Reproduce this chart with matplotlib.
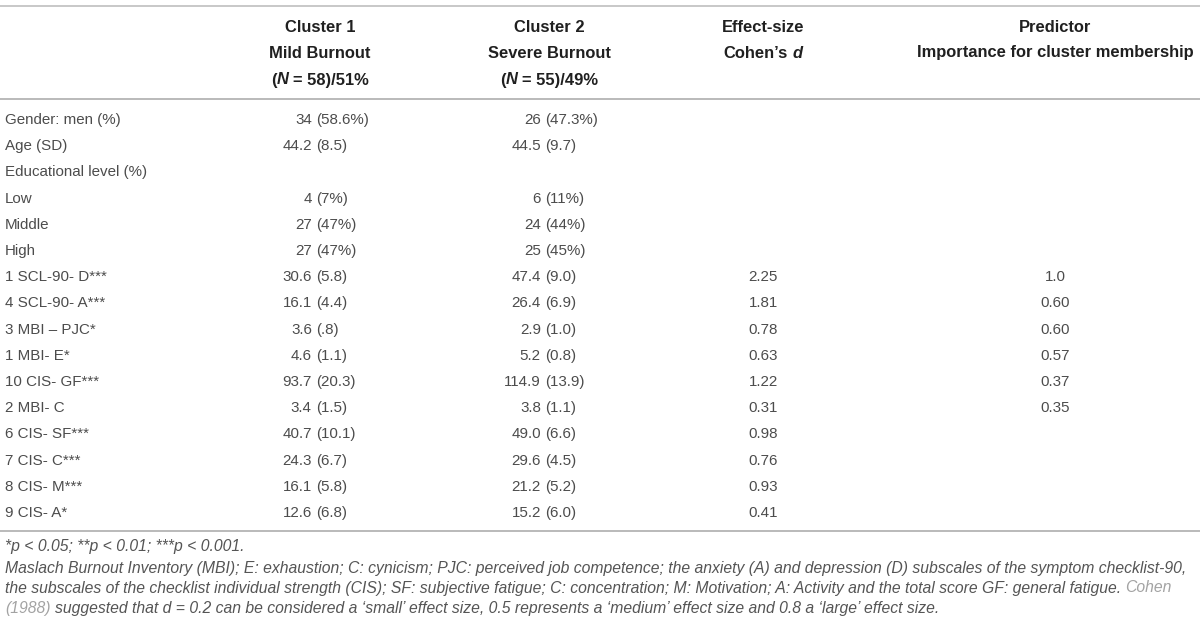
import matplotlib
matplotlib.use("Agg")
import matplotlib.pyplot as plt

# ---------------- data ----------------
header_c1 = ["Cluster 1", "Mild Burnout", "58)/51%"]
header_c2 = ["Cluster 2", "Severe Burnout", "55)/49%"]
header_es = ["Effect-size", "Cohen’s"]
header_pr = ["Predictor", "Importance for cluster membership"]

row_labels = ["Gender: men (%)", "Age (SD)", "Educational level (%)", "Low", "Middle", "High",
              "1 SCL-90- D***", "4 SCL-90- A***", "3 MBI – PJC*", "1 MBI- E*", "10 CIS- GF***",
              "2 MBI- C", "6 CIS- SF***", "7 CIS- C***", "8 CIS- M***", "9 CIS- A*"]
cluster1 = ["34 (58.6%)", "44.2 (8.5)", "", "4 (7%)", "27 (47%)", "27 (47%)",
            "30.6 (5.8)", "16.1 (4.4)", "3.6 (.8)", "4.6 (1.1)", "93.7 (20.3)",
            "3.4 (1.5)", "40.7 (10.1)", "24.3 (6.7)", "16.1 (5.8)", "12.6 (6.8)"]
cluster2 = ["26 (47.3%)", "44.5 (9.7)", "", "6 (11%)", "24 (44%)", "25 (45%)",
            "47.4 (9.0)", "26.4 (6.9)", "2.9 (1.0)", "5.2 (0.8)", "114.9 (13.9)",
            "3.8 (1.1)", "49.0 (6.6)", "29.6 (4.5)", "21.2 (5.2)", "15.2 (6.0)"]
effect_d = ["", "", "", "", "", "", "2.25", "1.81", "0.78", "0.63", "1.22",
            "0.31", "0.98", "0.76", "0.93", "0.41"]
predictor = ["", "", "", "", "", "", "1.0", "0.60", "0.60", "0.57", "0.37",
             "0.35", "", "", "", ""]

foot1 = "*p < 0.05; **p < 0.01; ***p < 0.001."
foot2 = ("Maslach Burnout Inventory (MBI); E: exhaustion; C: cynicism; PJC: perceived job competence; "
         "the anxiety (A) and depression (D) subscales of the symptom checklist-90,")
foot3 = ("the subscales of the checklist individual strength (CIS); SF: subjective fatigue; "
         "C: concentration; M: Motivation; A: Activity and the total score GF: general fatigue.")
foot3_link = "Cohen"
foot4_link = "(1988)"
foot4 = ("suggested that d = 0.2 can be considered a ‘small’ effect size, 0.5 represents a "
         "‘medium’ effect size and 0.8 a ‘large’ effect size.")

# ---------------- style ----------------
FAM = ["Liberation Sans", "DejaVu Sans"]
plt.rcParams["font.family"] = FAM

TXT = "#4c4c4c"
FTXT = "#555555"
HDR = "#202020"
GREY = "#a3a3a3"
LINE = "#b4b4b4"

fig = plt.figure(figsize=(12, 6.34), dpi=100)
ax = fig.add_axes([0, 0, 1, 1])
ax.set_xlim(0, 1200)
ax.set_ylim(634, 0)
ax.axis("off")
renderer = fig.canvas.get_renderer()


def fit_size(s, target_px, **kw):
    t = ax.text(0, 0, s, fontsize=10, **kw)
    w = t.get_window_extent(renderer).width
    t.remove()
    return 10 * target_px / w


FS = fit_size("Educational level (%)", 143)
HFS = fit_size("Importance for cluster membership", 277, fontweight="bold")
FFS = fit_size(foot2, 1188, style="italic")

body = dict(fontsize=FS, color=TXT)
hdr = dict(fontsize=HFS, color=HDR, fontweight="bold")
hdr_it = dict(fontsize=HFS, color=HDR, fontweight="bold", style="italic")
fkw = dict(fontsize=FFS, color=FTXT, style="italic")
fgrey = dict(fontsize=FFS, color=GREY, style="italic")


def run_text(x, y, parts, ha="left"):
    """Draw a sequence of (string, style, leading_space) runs on one line."""
    s0, kw0, _ = parts[0]
    first = ax.text(x, y, s0, ha="left", va="center", **kw0)
    prev = first
    arts = [first]
    for s, kw, sp in parts[1:]:
        off = 0.278 * kw["fontsize"] if sp else 0
        prev = ax.annotate(s, xy=(1, 0), xycoords=prev, xytext=(off, 0),
                           textcoords="offset points", ha="left", va="bottom", **kw)
        arts.append(prev)
    if ha == "center":
        fig.canvas.draw()
        x0 = arts[0].get_window_extent(renderer).x0
        x1 = arts[-1].get_window_extent(renderer).x1
        first.set_x(x - (x1 - x0) / 2)
    return first


# rules
ax.plot([0, 1200], [6, 6], color="#c4c4c4", lw=1.3, solid_capstyle="butt")
ax.plot([0, 1200], [99, 99], color=LINE, lw=1.3, solid_capstyle="butt")
ax.plot([0, 1200], [531, 531], color=LINE, lw=1.3, solid_capstyle="butt")

# headers
hy = [27, 53, 80]
x_c1, x_c2, x_es, x_pr = 320, 549, 763, 1055
for i in range(2):
    ax.text(x_c1, hy[i], header_c1[i], ha="center", va="center", **hdr)
    ax.text(x_c2, hy[i], header_c2[i], ha="center", va="center", **hdr)
    ax.text(x_pr, hy[i], header_pr[i], ha="center", va="center", **hdr)
ax.text(x_es, hy[0], header_es[0], ha="center", va="center", **hdr)
run_text(x_es, hy[1], [(header_es[1], hdr, False), ("d", hdr_it, True)], ha="center")
for xc, txt in ((x_c1, header_c1[2]), (x_c2, header_c2[2])):
    run_text(xc, hy[2], [("(", hdr, False), ("N", hdr_it, False), ("= " + txt, hdr, True)],
             ha="center")

# body rows
y0, dy = 120, 26.2
x_lab = 5
x_p1, x_p2 = 316, 545
sp_px = 0.278 * FS * 100 / 72
for i, lab in enumerate(row_labels):
    y = y0 + i * dy
    ax.text(x_lab, y, lab, ha="left", va="center", **body)
    for xp, val in ((x_p1, cluster1[i]), (x_p2, cluster2[i])):
        if val:
            num, rest = val.split(" ", 1)
            ax.text(xp - sp_px, y, num, ha="right", va="center", **body)
            ax.text(xp, y, rest, ha="left", va="center", **body)
    if effect_d[i]:
        ax.text(x_es, y, effect_d[i], ha="center", va="center", **body)
    if predictor[i]:
        ax.text(x_pr, y, predictor[i], ha="center", va="center", **body)

# footnotes
ax.text(5, 547, foot1, ha="left", va="center", **fkw)
ax.text(5, 568, foot2, ha="left", va="center", **fkw)
run_text(5, 588, [(foot3, fkw, False), (foot3_link, fgrey, True)])
run_text(5, 608, [(foot4_link, fgrey, False), (foot4, fkw, True)])

fig.savefig("out.png", dpi=100)
